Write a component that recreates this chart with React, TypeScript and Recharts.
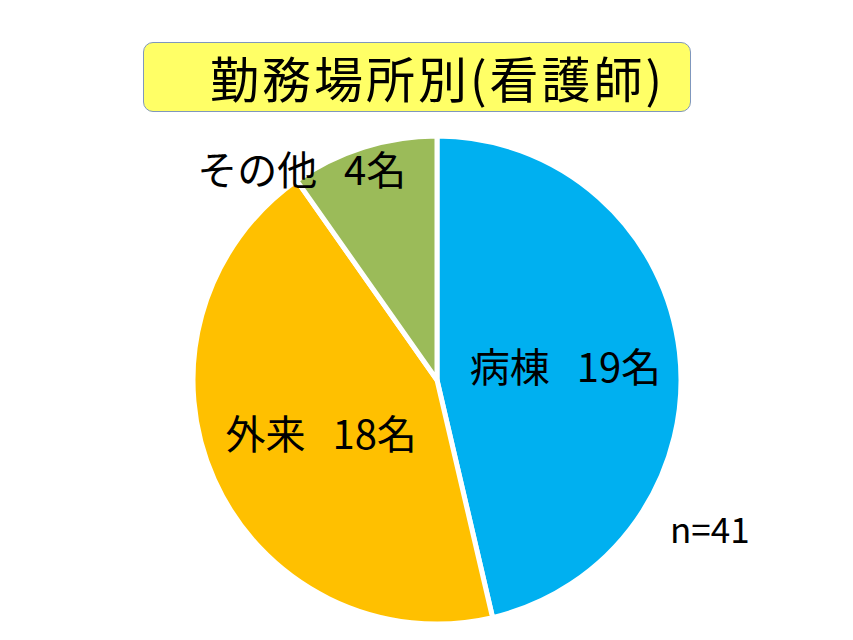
import { Cell, Pie, PieChart } from "recharts";

const categories = ["病棟", "外来", "その他"];
const counts = [19, 18, 4];
const colors = ["#00B0F0", "#FFC000", "#9BBB59"];
const titleText = "勤務場所別(看護師)";
const totalText = "n=41";

const data = categories.map((name, i) => ({ name, value: counts[i] }));

// label placement: fraction of radius and angle shift (deg) per slice
const labelPlace = [
  { r: 0.53, shift: 0 },
  { r: 0.52, shift: 0 },
  { r: 1.03, shift: 15 },
];

const RADIAN = Math.PI / 180;

const renderLabel = (props: any) => {
  const { cx, cy, midAngle, outerRadius, index, name, value } = props;
  const p = labelPlace[index];
  const a = (midAngle + p.shift) * RADIAN;
  const x = cx + outerRadius * p.r * Math.cos(a);
  const y = cy - outerRadius * p.r * Math.sin(a);
  return (
    <text
      x={x}
      y={y}
      fill="#000"
      textAnchor="middle"
      dominantBaseline="central"
      fontSize={40}
      fontFamily="'Noto Sans CJK JP', sans-serif"
      style={{ whiteSpace: "pre" }}
    >
      {`${name}   ${value}名`}
    </text>
  );
};

export default function App() {
  return (
    <div
      style={{
        position: "absolute",
        left: 0,
        top: 0,
        width: 853,
        height: 640,
        background: "#fff",
        fontFamily: "'Noto Sans CJK JP', sans-serif",
      }}
    >
      <PieChart
        width={853}
        height={640}
        margin={{ top: 0, right: 0, bottom: 0, left: 0 }}
      >
        <Pie
          data={data}
          dataKey="value"
          nameKey="name"
          cx={437}
          cy={380}
          outerRadius={244}
          startAngle={90}
          endAngle={-270}
          stroke="#fff"
          strokeWidth={5}
          label={renderLabel}
          labelLine={false}
          isAnimationActive={false}
        >
          {data.map((d, i) => (
            <Cell key={d.name} fill={colors[i]} />
          ))}
        </Pie>
      </PieChart>
      <div
        style={{
          position: "absolute",
          left: 143,
          top: 42,
          width: 548,
          height: 70,
          background: "#FFFF66",
          border: "1.5px solid #7f97bd",
          borderRadius: 10,
          boxSizing: "border-box",
        }}
      >
        <div
          style={{
            position: "absolute",
            left: 66,
            top: 4,
            fontSize: 49,
            letterSpacing: 3,
            lineHeight: "60px",
            color: "#000",
            whiteSpace: "nowrap",
          }}
        >
          {titleText}
        </div>
      </div>
      <div
        style={{
          position: "absolute",
          left: 670,
          top: 506,
          fontSize: 35,
          lineHeight: "44px",
          color: "#000",
        }}
      >
        {totalText}
      </div>
    </div>
  );
}
